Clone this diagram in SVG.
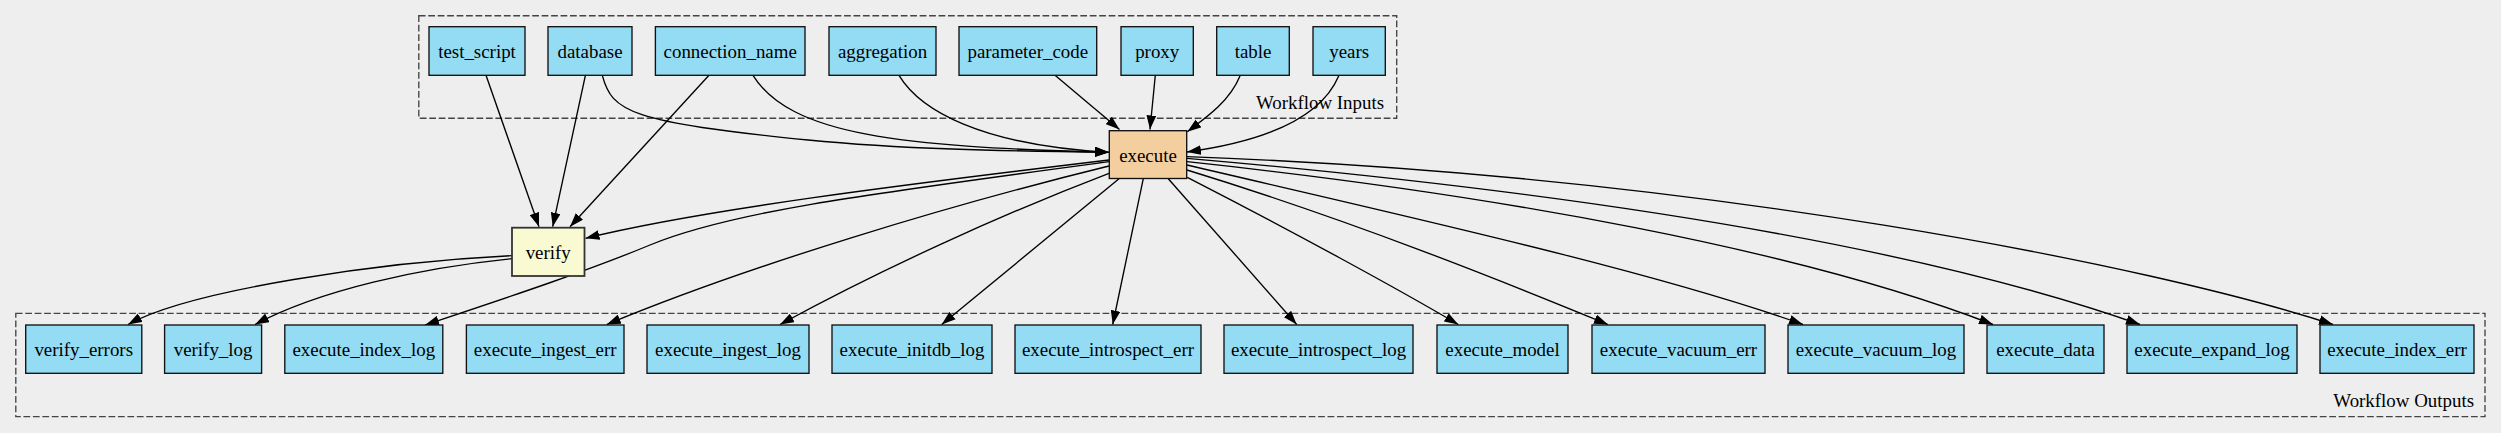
<svg xmlns="http://www.w3.org/2000/svg" width="2501" height="433" viewBox="0 0 2501 433">
<style>
.bg{fill:#eeeeee}
.cl{fill:none;stroke:#444444;stroke-width:1.35;stroke-dasharray:6.75,2.7}
.io rect{fill:#94dcf4;stroke:#111111;stroke-width:1.35}
.ex rect{fill:#f3cfa0;stroke:#111111;stroke-width:1.35}
.vf rect{fill:#fafad2;stroke:#333333;stroke-width:1.8}
text{font-family:"Liberation Serif","Times New Roman",serif;font-size:18.9px;fill:#000000}
.node text{text-anchor:middle}
.lbl{text-anchor:end}
#edges path{fill:none;stroke:#000000;stroke-width:1.35;marker-end:url(#arr)}
</style>
<defs>
<marker id="arr" markerUnits="userSpaceOnUse" markerWidth="14" markerHeight="10" viewBox="0 0 13.5 9.4" refX="13.5" refY="4.7" orient="auto">
<path d="M0,0 L13.5,4.7 L0,9.4 z" fill="#000000"/>
</marker>
</defs>
<rect class="bg" x="0" y="0" width="2501" height="433"/>

<g id="cluster_inputs">
<rect class="cl" x="418.8" y="15.7" width="977.9" height="102.6"/>
<text class="lbl" x="1384" y="109">Workflow Inputs</text>
</g>
<g id="cluster_outputs">
<rect class="cl" x="15.8" y="313.3" width="2469.2" height="103.4"/>
<text class="lbl" x="2474" y="406.7">Workflow Outputs</text>
</g>

<g id="edges">
<path d="M486,75.3 L539,226.7"/>
<path d="M585.4,75.3 L552.7,226.7"/>
<path d="M709,75.3 L570,226.7"/>
<path d="M602.3,75.3 C612,112 630,122 808,140 C900,149 1000,151 1109,152.3"/>
<path d="M753,75.3 C790,135 900,147 1109,152.3"/>
<path d="M899,75.3 C920,110 980,145 1109,152.3"/>
<path d="M1055,75.3 L1119.5,129.5"/>
<path d="M1155.3,75.3 L1150,129.5"/>
<path d="M1240,76 C1230,100 1210,115 1187.3,131.7"/>
<path d="M1338.7,76 C1320,120 1260,142 1187,152"/>
<path d="M1109,160 C900,185 700,210 585.5,238.3"/>
<path d="M1109,161.7 C860,195 730,212 650,245 C585,272 500,300 425,325"/>
<path d="M1109,166 C950,205 750,265 606.7,324.5"/>
<path d="M1109,173.3 C1000,215 880,270 780,324.5"/>
<path d="M1119,178.7 L941.7,324.5"/>
<path d="M1143.3,178.7 L1112.7,324.5"/>
<path d="M1168.3,178.7 L1296.7,324.5"/>
<path d="M1187.3,177.3 C1290,230 1400,290 1458.3,324.5"/>
<path d="M1187,170 C1350,220 1500,280 1608,324.5"/>
<path d="M1187,165 C1400,215 1650,270 1803,324.5"/>
<path d="M1187,161.7 C1500,195 1800,250 1993,324.5"/>
<path d="M1187,158.3 C1550,190 1900,240 2140,324.5"/>
<path d="M1187,156.7 C1700,175 2150,265 2333,324.5"/>
<path d="M512,255.7 C380,262 190,290 128,324.5"/>
<path d="M512,258.7 C420,268 320,290 255,324.5"/>
</g>

<g id="test_script" class="node io"><rect x="429" y="26.7" width="96" height="48.6"/><text x="477" y="58">test_script</text></g>
<g id="database" class="node io"><rect x="548" y="26.7" width="84" height="48.6"/><text x="590" y="58">database</text></g>
<g id="connection_name" class="node io"><rect x="655.4" y="26.7" width="149.6" height="48.6"/><text x="730.2" y="58">connection_name</text></g>
<g id="aggregation" class="node io"><rect x="829" y="26.7" width="107" height="48.6"/><text x="882.5" y="58">aggregation</text></g>
<g id="parameter_code" class="node io"><rect x="959" y="26.7" width="137.7" height="48.6"/><text x="1027.8" y="58">parameter_code</text></g>
<g id="proxy" class="node io"><rect x="1121" y="26.7" width="72.3" height="48.6"/><text x="1157.2" y="58">proxy</text></g>
<g id="table" class="node io"><rect x="1216.7" y="26.7" width="72.6" height="48.6"/><text x="1253" y="58">table</text></g>
<g id="years" class="node io"><rect x="1313" y="26.7" width="72.3" height="48.6"/><text x="1349.2" y="58">years</text></g>

<g id="execute" class="node ex"><rect x="1109.3" y="130.7" width="77.4" height="47.8"/><text x="1148" y="161.5">execute</text></g>
<g id="verify" class="node vf"><rect x="512" y="227.7" width="72.5" height="48.3"/><text x="548.2" y="258.8">verify</text></g>

<g id="verify_errors" class="node io"><rect x="25.7" y="325" width="116.1" height="48.3"/><text x="83.7" y="356">verify_errors</text></g>
<g id="verify_log" class="node io"><rect x="164.6" y="325" width="97" height="48.3"/><text x="213.1" y="356">verify_log</text></g>
<g id="execute_index_log" class="node io"><rect x="284.8" y="325" width="158" height="48.3"/><text x="363.8" y="356">execute_index_log</text></g>
<g id="execute_ingest_err" class="node io"><rect x="466.4" y="325" width="157.6" height="48.3"/><text x="545.2" y="356">execute_ingest_err</text></g>
<g id="execute_ingest_log" class="node io"><rect x="647" y="325" width="162" height="48.3"/><text x="728" y="356">execute_ingest_log</text></g>
<g id="execute_initdb_log" class="node io"><rect x="832" y="325" width="160" height="48.3"/><text x="912" y="356">execute_initdb_log</text></g>
<g id="execute_introspect_err" class="node io"><rect x="1015" y="325" width="186" height="48.3"/><text x="1108" y="356">execute_introspect_err</text></g>
<g id="execute_introspect_log" class="node io"><rect x="1224" y="325" width="189" height="48.3"/><text x="1318.5" y="356">execute_introspect_log</text></g>
<g id="execute_model" class="node io"><rect x="1437" y="325" width="131" height="48.3"/><text x="1502.5" y="356">execute_model</text></g>
<g id="execute_vacuum_err" class="node io"><rect x="1592" y="325" width="173" height="48.3"/><text x="1678.5" y="356">execute_vacuum_err</text></g>
<g id="execute_vacuum_log" class="node io"><rect x="1788" y="325" width="176" height="48.3"/><text x="1876" y="356">execute_vacuum_log</text></g>
<g id="execute_data" class="node io"><rect x="1987" y="325" width="117" height="48.3"/><text x="2045.5" y="356">execute_data</text></g>
<g id="execute_expand_log" class="node io"><rect x="2127" y="325" width="170" height="48.3"/><text x="2212" y="356">execute_expand_log</text></g>
<g id="execute_index_err" class="node io"><rect x="2320" y="325" width="154" height="48.3"/><text x="2397" y="356">execute_index_err</text></g>
</svg>
